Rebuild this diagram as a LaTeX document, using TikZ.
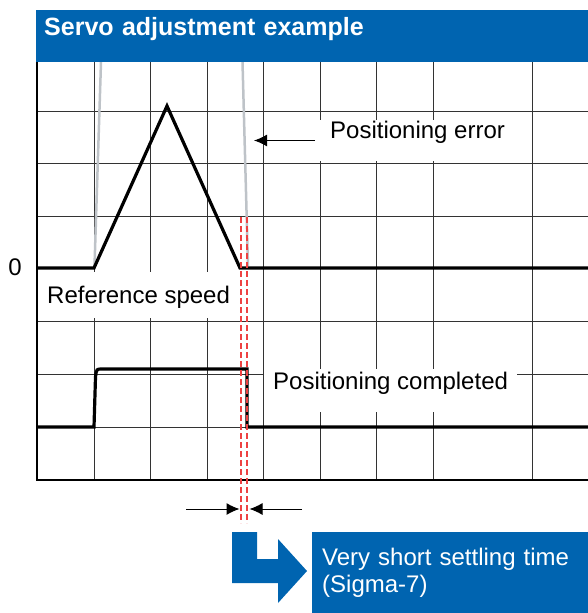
\documentclass[tikz,border=0pt]{standalone}
\usepackage{fontspec}
\setmainfont{Liberation Sans}
\usetikzlibrary{arrows.meta}

\definecolor{omblue}{RGB}{0,100,176}
\definecolor{errgray}{RGB}{190,195,200}
\definecolor{setred}{RGB}{238,66,66}

\tikzset{
  gridline/.style={black!80, line width=1pt},
  signal/.style={line width=3.2pt, line join=miter},
  labelbox/.style={fill=white, inner ysep=0pt, anchor=base west, font=\fontsize{24}{26}\selectfont},
  dimarrow/.style={-{Latex[length=13pt,width=12pt]}, line width=1pt},
  settleline/.style={setred, line width=2pt, dash pattern=on 6pt off 3pt}
}

\begin{document}
\begin{tikzpicture}[x=1pt,y=-1pt]
\useasboundingbox (0,0) rectangle (588,613);

\foreach \x in {94,150.5,207,263.5,320,376.5,433,532}
  \draw[gridline] (\x,62) -- (\x,480);
\foreach \y in {111,163.5,216,321,374,427}
  \draw[gridline] (37,\y) -- (588,\y);

\node[labelbox, inner xsep=15pt, text height=18pt, text depth=23pt] (perr) at (315,138) {Positioning error};
\node[labelbox, inner xsep=4pt, text height=31pt, text depth=15pt] (rspeed) at (43,303) {Reference speed};
\node[labelbox, inner xsep=9pt, text height=20pt, text depth=23pt] (pcomp) at (264,389) {Positioning completed};
\node[font=\fontsize{24}{26}\selectfont] (zero) at (15,267) {0};

\draw[errgray, line width=2.5pt] (101,62) -- (94.5,266);
\draw[errgray, line width=2.5pt] (242.5,62) -- (248,266);

\draw[signal] (37,268) -- (94,268) -- (167,106) -- (240,268) -- (588,268);
\draw[signal] (37,427) -- (94,427) -- (95.5,377) .. controls (96.5,369) .. (102,369) -- (247,369) -- (247,427) -- (588,427);

\draw[line width=2.5pt] (37,62) -- (37,480) -- (588,480);

\foreach \x in {240.5,247}
  \draw[settleline] (\x,217) -- (\x,523);

\coordinate (errtip) at (254,140.5);
\draw[dimarrow] (perr.west) -- (errtip);

\coordinate (dimL) at (186,509);
\coordinate (dimLtip) at (239.5,509);
\coordinate (dimR) at (302,509);
\coordinate (dimRtip) at (249.5,509);
\draw[dimarrow] (dimL) -- (dimLtip);
\draw[dimarrow] (dimR) -- (dimRtip);

\node[fill=omblue, text=white, font=\bfseries\fontsize{25}{27}\selectfont, anchor=base west, inner xsep=8pt, inner ysep=0pt, text height=25pt, text depth=27pt, text width=536pt] (title) at (36,35) {Servo adjustment example};

\fill[omblue] (232,532) -- (257,532) -- (257,559) -- (278,559) -- (278,539) -- (307,571) -- (278,603) -- (278,583) -- (232,583) -- cycle;
\node[fill=omblue, text=white, anchor=north west, inner xsep=10pt, text width=256pt, minimum height=81pt, align=left, font=\fontsize{24}{26.5}\selectfont] (settle) at (312,532) {Very short settling time\\(Sigma-7)};
\end{tikzpicture}
\end{document}
